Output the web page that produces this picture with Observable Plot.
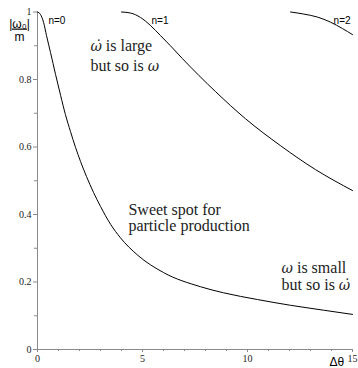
<!DOCTYPE html>
<html><head><meta charset="utf-8">
<script src="https://cdn.jsdelivr.net/npm/d3@7"></script>
<script src="https://cdn.jsdelivr.net/npm/@observablehq/plot@0.6"></script>
<style>body{margin:0;background:#fff}</style>
</head><body><div id="chart"></div>
<script>
// n = 0 branch
const n0x = [0, 0.14, 0.29, 0.43, 0.62, 0.86, 1.10, 1.33, 1.57, 1.81, 2.05, 2.33, 2.67, 3.0, 3.48, 3.95, 4.76, 6.0, 7.76, 8.86, 10.48, 12.05, 13.62, 15];
const n0y = [1.0, 0.993, 0.969, 0.93, 0.88, 0.815, 0.753, 0.696, 0.646, 0.599, 0.557, 0.513, 0.465, 0.424, 0.371, 0.331, 0.28, 0.228, 0.186, 0.168, 0.148, 0.131, 0.1165, 0.104];
// n = 1 branch
const n1x = [4.0, 4.43, 4.9, 5.38, 5.86, 6.33, 6.9, 8.48, 9.9, 11.57, 13.24, 15];
const n1y = [1.0, 0.997, 0.984, 0.96, 0.93, 0.90, 0.862, 0.764, 0.684, 0.604, 0.533, 0.471];
// n = 2 branch
const n2x = [12.05, 12.67, 13.33, 13.95, 14.52, 15];
const n2y = [1.0, 0.994, 0.985, 0.97, 0.951, 0.933];

const xTicks = [0, 5, 10, 15];
const xTickLabels = ["0", "5", "10", "15"];
const xMinor = [1,2,3,4,6,7,8,9,11,12,13,14];
const yTicks = [0, 0.2, 0.4, 0.6, 0.8, 1];
const yTickLabels = ["0", "0.2", "0.4", "0.6", "0.8", "1"];
const yMinor = [0.1, 0.3, 0.5, 0.7, 0.9];

const curves = [
  ...n0x.map((x, i) => ({n: "n=0", x, y: n0y[i]})),
  ...n1x.map((x, i) => ({n: "n=1", x, y: n1y[i]})),
  ...n2x.map((x, i) => ({n: "n=2", x, y: n2y[i]}))
];

const serif = "'Liberation Serif', serif";
const sans = "'Liberation Sans', Arial, sans-serif";
const axisGray = "#8a8a8a";
const annSize = 16;

const chart = Plot.plot({
  width: 358,
  height: 368,
  marginLeft: 37,
  marginRight: 6,
  marginTop: 11.5,
  marginBottom: 19,
  x: {domain: [0, 15]},
  y: {domain: [0, 1]},
  style: {background: "white", fontFamily: serif, fontSize: "10px", color: "#222", overflow: "visible"},
  marks: [
    Plot.axisY(yMinor, {tickSize: 3, stroke: axisGray, tickFormat: () => "", label: null}),
    Plot.axisY(yTicks, {tickSize: 4, tickPadding: 2, stroke: axisGray, tickFormat: (d) => yTickLabels[yTicks.indexOf(d)], label: null, fill: "#222", fontFamily: serif, fontSize: 10}),
    Plot.axisX(xMinor, {tickSize: 2, stroke: axisGray, tickFormat: () => "", label: null}),
    Plot.axisX(xTicks, {tickSize: 3, tickPadding: 2, stroke: axisGray, tickFormat: (d) => xTickLabels[xTicks.indexOf(d)], label: null, fill: "#222", fontFamily: serif, fontSize: 10}),
    Plot.ruleX([0], {stroke: axisGray}),
    Plot.ruleY([0], {stroke: axisGray}),
    Plot.line(curves, {x: "x", y: "y", z: "n", stroke: "black", strokeWidth: 1, curve: "monotone-x"}),
    // curve labels
    Plot.text(["n=0"], {x: 0.52, y: 0.975, text: d => d, textAnchor: "start", fontFamily: sans, fontSize: 10, fill: "black"}),
    Plot.text(["n=1"], {x: 5.43, y: 0.975, text: d => d, textAnchor: "start", fontFamily: sans, fontSize: 10, fill: "black"}),
    Plot.text(["n=2"], {x: 14.1, y: 0.975, text: d => d, textAnchor: "start", fontFamily: sans, fontSize: 10, fill: "black"}),
    // annotations
    Plot.text(["ω̇ is large"], {x: 2.52, y: 0.883, text: d => d, textAnchor: "start", lineAnchor: "bottom", fontFamily: serif, fontSize: annSize, fill: "#222"}),
    Plot.text(["but so is ω"], {x: 2.52, y: 0.824, text: d => d, textAnchor: "start", lineAnchor: "bottom", fontFamily: serif, fontSize: annSize, fill: "#222"}),
    Plot.text(["Sweet spot for"], {x: 4.33, y: 0.40, text: d => d, textAnchor: "start", lineAnchor: "bottom", fontFamily: serif, fontSize: annSize, fill: "#222"}),
    Plot.text(["particle production"], {x: 4.33, y: 0.35, text: d => d, textAnchor: "start", lineAnchor: "bottom", fontFamily: serif, fontSize: annSize, fill: "#222"}),
    Plot.text(["ω is small"], {x: 11.62, y: 0.228, text: d => d, textAnchor: "start", lineAnchor: "bottom", fontFamily: serif, fontSize: annSize, fill: "#222"}),
    Plot.text(["but so is ω̇"], {x: 11.62, y: 0.175, text: d => d, textAnchor: "start", lineAnchor: "bottom", fontFamily: serif, fontSize: annSize, fill: "#222"}),
    // axis titles
    Plot.text(["Δθ"], {x: 14.25, y: 0, dy: 13, text: d => d, textAnchor: "middle", fontFamily: sans, fontSize: 12, fill: "black"}),
    Plot.text(["|ω₀|"], {frameAnchor: "top-left", dx: -18, dy: 7, text: d => d, textAnchor: "middle", fontFamily: sans, fontSize: 12, fill: "black"}),
    Plot.text(["m"], {frameAnchor: "top-left", dx: -18, dy: 20, text: d => d, textAnchor: "middle", fontFamily: sans, fontSize: 12, fill: "black"})
  ]
});

// underline the numerator of the y label (fraction bar)
d3.select(chart).selectAll("text").filter(function() { return this.textContent === "|ω₀|"; })
  .style("text-decoration", "underline");

// render the math omegas in an italic font that places the combining dot correctly
d3.select(chart).selectAll("text").each(function() {
  const t = this.textContent;
  if (t.startsWith("|") || !/ω/.test(t) || this.querySelector("tspan")) return;
  const parts = t.split(/(ω\u0307|ω)/).filter(s => s.length);
  const sel = d3.select(this);
  sel.text(null);
  for (const p of parts) {
    const ts = sel.append("tspan").text(p);
    if (p.startsWith("ω")) ts.attr("font-family", "'DejaVu Serif', serif").attr("font-style", "italic").attr("font-size", annSize - 2);
  }
});

document.getElementById("chart").appendChild(chart);
</script>
</body></html>
